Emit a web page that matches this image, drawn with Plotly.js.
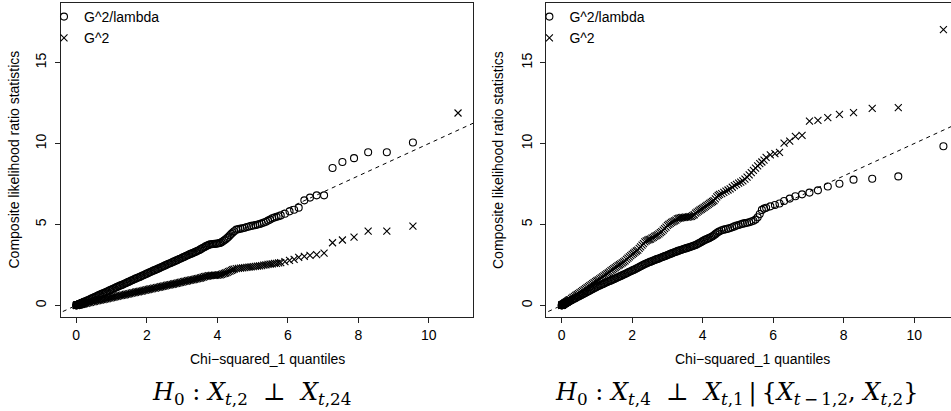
<!DOCTYPE html>
<html>
<head>
<meta charset="utf-8">
<script src="https://cdn.plot.ly/plotly-3.0.1.min.js"></script>
<style>html,body{margin:0;padding:0;background:#fff;}#chart{width:951px;height:411px;}</style>
</head>
<body>
<div id="chart"></div>
<script>
// Chi-squared_1 quantiles (x positions; shared by all series)
const qx = [
  0.000,0.004,0.008,0.012,0.018,0.025,0.033,0.042,0.052,0.063,
  0.075,0.088,0.100,0.115,0.130,0.145,0.160,0.180,0.200,0.220,
  0.24,0.28,0.32,0.36,0.40,0.44,0.48,0.52,0.56,0.60,
  0.64,0.68,0.72,0.76,0.80,0.84,0.88,0.92,0.96,1.00,
  1.04,1.08,1.12,1.16,1.20,1.24,1.28,1.32,1.36,1.40,
  1.44,1.48,1.52,1.56,1.60,1.64,1.68,1.72,1.76,1.80,
  1.84,1.88,1.92,1.96,2.00,2.04,2.08,2.12,2.16,2.20,
  2.24,2.28,2.32,2.36,2.40,2.44,2.48,2.52,2.56,2.60,
  2.64,2.68,2.72,2.76,2.80,2.84,2.88,2.92,2.96,3.00,
  3.04,3.08,3.12,3.16,3.20,3.24,3.28,3.32,3.36,3.40,
  3.44,3.48,3.52,3.56,3.60,3.64,3.68,3.72,3.76,3.80,
  3.84,3.88,3.92,3.96,4.00,4.04,4.08,4.12,4.16,4.20,
  4.24,4.28,4.32,4.36,4.40,4.44,4.48,4.54,4.60,4.66,
  4.72,4.78,4.84,4.90,4.96,5.02,5.08,5.14,5.20,5.26,
  5.32,5.38,5.44,5.50,5.56,5.62,5.68,5.74,5.80,5.92,
  6.05,6.18,6.31,6.47,6.63,6.82,7.03,7.27,7.55,7.88,
  8.28,8.81,9.55,10.83
];
// Left panel: H0 : X_{t,2} ⊥ X_{t,24}
const leftLambda = [
  0.000,0.004,0.008,0.012,0.018,0.025,0.032,0.041,0.051,0.062,
  0.074,0.086,0.098,0.113,0.127,0.142,0.157,0.176,0.196,0.216,
  0.24,0.27,0.31,0.35,0.39,0.43,0.47,0.51,0.55,0.59,
  0.63,0.67,0.71,0.74,0.78,0.82,0.86,0.90,0.94,0.98,
  1.02,1.06,1.10,1.14,1.18,1.22,1.25,1.29,1.33,1.37,
  1.41,1.45,1.49,1.53,1.57,1.61,1.65,1.69,1.72,1.76,
  1.80,1.84,1.88,1.92,1.96,2.00,2.04,2.08,2.12,2.16,
  2.19,2.23,2.27,2.31,2.35,2.39,2.43,2.47,2.51,2.55,
  2.59,2.62,2.66,2.70,2.74,2.78,2.82,2.86,2.90,2.94,
  2.98,3.02,3.06,3.10,3.14,3.18,3.21,3.25,3.29,3.33,
  3.37,3.41,3.46,3.51,3.56,3.61,3.66,3.70,3.74,3.77,
  3.78,3.79,3.80,3.81,3.82,3.84,3.86,3.90,3.96,4.02,
  4.09,4.16,4.24,4.33,4.42,4.50,4.58,4.68,4.71,4.74,
  4.77,4.80,4.84,4.87,4.91,4.94,4.96,4.99,5.03,5.07,
  5.12,5.17,5.24,5.30,5.38,5.43,5.47,5.51,5.56,5.66,
  5.81,5.91,6.04,6.49,6.66,6.80,6.80,8.49,8.86,9.10,
  9.46,9.46,10.07,null
];
const leftG2 = [
  0.000,0.002,0.004,0.006,0.009,0.012,0.016,0.020,0.025,0.030,
  0.036,0.042,0.048,0.055,0.062,0.069,0.076,0.085,0.095,0.105,
  0.12,0.13,0.15,0.17,0.19,0.21,0.23,0.25,0.27,0.29,
  0.31,0.33,0.35,0.36,0.38,0.40,0.42,0.44,0.46,0.48,
  0.50,0.52,0.54,0.56,0.58,0.60,0.61,0.63,0.65,0.67,
  0.69,0.71,0.73,0.75,0.77,0.79,0.81,0.83,0.84,0.86,
  0.88,0.90,0.92,0.94,0.96,0.98,1.00,1.02,1.04,1.06,
  1.07,1.09,1.11,1.13,1.15,1.17,1.19,1.21,1.23,1.25,
  1.27,1.28,1.30,1.32,1.34,1.36,1.38,1.40,1.42,1.44,
  1.46,1.48,1.50,1.52,1.54,1.56,1.57,1.59,1.61,1.63,
  1.65,1.67,1.69,1.72,1.74,1.77,1.79,1.81,1.83,1.84,
  1.85,1.85,1.86,1.86,1.87,1.88,1.89,1.91,1.94,1.97,
  2.00,2.04,2.08,2.12,2.16,2.20,2.24,2.27,2.29,2.30,
  2.32,2.33,2.35,2.36,2.38,2.40,2.41,2.42,2.44,2.46,
  2.48,2.50,2.53,2.55,2.57,2.59,2.60,2.62,2.64,2.70,
  2.78,2.84,2.97,3.03,3.09,3.13,3.23,3.87,4.04,4.22,
  4.59,4.59,4.90,11.89
];
// Right panel: H0 : X_{t,4} ⊥ X_{t,1} | {X_{t-1,2}, X_{t,2}}
const rightLambda = [
  0.000,0.005,0.009,0.014,0.021,0.029,0.038,0.048,0.060,0.072,
  0.086,0.101,0.115,0.132,0.150,0.167,0.184,0.207,0.230,0.253,
  0.28,0.32,0.37,0.41,0.46,0.51,0.55,0.60,0.64,0.69,
  0.74,0.78,0.83,0.87,0.92,0.97,1.01,1.06,1.10,1.15,
  1.19,1.23,1.27,1.31,1.35,1.39,1.43,1.47,1.51,1.54,
  1.58,1.62,1.66,1.70,1.74,1.78,1.82,1.86,1.90,1.94,
  1.98,2.03,2.07,2.11,2.15,2.19,2.23,2.28,2.32,2.37,
  2.42,2.46,2.51,2.55,2.59,2.63,2.66,2.70,2.73,2.77,
  2.80,2.84,2.87,2.90,2.94,2.97,3.00,3.04,3.07,3.11,
  3.14,3.18,3.21,3.25,3.28,3.31,3.35,3.38,3.41,3.44,
  3.47,3.50,3.52,3.55,3.58,3.61,3.64,3.67,3.70,3.73,
  3.77,3.82,3.87,3.92,3.97,4.02,4.06,4.10,4.14,4.18,
  4.22,4.27,4.33,4.40,4.47,4.53,4.58,4.64,4.68,4.71,
  4.74,4.78,4.83,4.88,4.93,4.97,5.01,5.05,5.08,5.11,
  5.14,5.18,5.23,5.30,5.45,5.65,5.90,5.98,6.03,6.12,
  6.20,6.30,6.45,6.60,6.74,6.86,6.97,7.11,7.35,7.52,
  7.77,7.83,7.97,9.83
];
const rightG2 = [
  0.000,0.006,0.012,0.018,0.027,0.038,0.050,0.064,0.079,0.096,
  0.114,0.134,0.152,0.175,0.198,0.220,0.243,0.274,0.304,0.334,
  0.36,0.43,0.49,0.55,0.61,0.67,0.73,0.79,0.85,0.91,
  0.97,1.03,1.09,1.16,1.22,1.28,1.34,1.40,1.46,1.52,
  1.58,1.64,1.70,1.76,1.82,1.88,1.94,2.00,2.07,2.14,
  2.21,2.27,2.33,2.39,2.45,2.51,2.57,2.63,2.69,2.75,
  2.84,2.92,3.00,3.07,3.15,3.22,3.29,3.36,3.42,3.52,
  3.62,3.72,3.82,3.92,3.99,4.03,4.07,4.10,4.15,4.20,
  4.26,4.31,4.36,4.42,4.49,4.56,4.65,4.74,4.84,4.95,
  5.01,5.07,5.13,5.18,5.22,5.27,5.34,5.37,5.40,5.42,
  5.43,5.44,5.45,5.46,5.47,5.48,5.50,5.54,5.60,5.70,
  5.76,5.82,5.88,5.94,6.00,6.06,6.12,6.18,6.24,6.30,
  6.36,6.42,6.48,6.58,6.70,6.80,6.86,6.90,6.98,7.06,
  7.13,7.20,7.30,7.40,7.48,7.55,7.62,7.70,7.80,7.93,
  8.06,8.20,8.34,8.48,8.62,8.76,8.86,8.98,9.15,9.30,
  9.38,9.45,10.03,10.15,10.44,10.50,11.39,11.43,11.60,11.80,
  11.91,12.18,12.22,17.04
];
const refLine = [-1, 12];          // y = x reference line
const xTicks = [0, 2, 4, 6, 8, 10];
const yTicks = [0, 5, 10, 15];
const seriesNames = ['G^2/lambda', 'G^2'];
const xTitle = 'Chi\u2212squared_1 quantiles';
const yTitle = 'Composite likelihood ratio statistics';
const SP = '\u00A0';
const leftCaption = '<i>H</i><sub>0</sub>' + SP + ':' + SP + '<i>X</i><sub><i>t</i>,2</sub>' + SP + SP + '\u22A5' + SP + SP + '<i>X</i><sub><i>t</i>,24</sub>';
const rightCaption = '<i>H</i><sub>0</sub>' + SP + ':' + SP + '<i>X</i><sub><i>t</i>,4</sub>' + SP + SP + '\u22A5' + SP + SP + '<i>X</i><sub><i>t</i>,1</sub>\u2009|\u2009{<i>X</i><sub><i>t</i>\u2009\u2212\u20091,2</sub>,' + SP + '<i>X</i><sub><i>t</i>,2</sub>}';

const SANS = 'Liberation Sans, Arial, Helvetica, sans-serif';
const SERIF = 'DejaVu Serif, Liberation Serif, serif';
const W = 951, H = 411;

function panel(xa, ya, circ, cross, leg) {
  return [
    {x: refLine, y: refLine, xaxis: xa, yaxis: ya, type: 'scatter', mode: 'lines',
     line: {color: '#000', width: 1, dash: '4px,4px'}, showlegend: false, hoverinfo: 'skip'},
    {x: qx, y: circ, xaxis: xa, yaxis: ya, type: 'scatter', mode: 'markers', name: seriesNames[0], legend: leg,
     marker: {symbol: 'circle-open', size: 7, color: '#000', line: {color: '#000', width: 1.1}}},
    {x: qx, y: cross, xaxis: xa, yaxis: ya, type: 'scatter', mode: 'markers', name: seriesNames[1], legend: leg,
     marker: {symbol: 'x-thin-open', size: 7, color: '#000', line: {color: '#000', width: 1.1}}}
  ];
}

const data = [].concat(
  panel('x', 'y', leftLambda, leftG2, 'legend'),
  panel('x2', 'y2', rightLambda, rightG2, 'legend2')
);

const ax = {
  showgrid: false, zeroline: false, showline: true, linecolor: '#222', linewidth: 1,
  ticks: 'outside', ticklen: 5, tickwidth: 1, tickcolor: '#222',
  tickfont: {family: SANS, size: 14, color: '#000'}, fixedrange: true
};
const yDom = [94 / H, 408.5 / H];
const L1 = 61, R1 = 473.3, L2 = 546.4;

const legendBase = {
  xref: 'paper', yref: 'paper', xanchor: 'left', yanchor: 'top',
  bgcolor: 'rgba(0,0,0,0)', borderwidth: 0, itemwidth: 30,
  font: {family: SANS, size: 14, color: '#000'}
};

const annText = (txt, x, y, extra) => Object.assign({
  text: txt, xref: 'paper', yref: 'paper', x: x / W, y: 1 - y / H,
  xanchor: 'center', yanchor: 'middle', showarrow: false,
  font: {family: SANS, size: 14, color: '#000'}
}, extra || {});

const layout = {
  width: W, height: H,
  margin: {l: 0, r: 0, t: 0, b: 0, pad: 0},
  paper_bgcolor: '#fff', plot_bgcolor: '#fff',
  showlegend: true,
  xaxis: Object.assign({}, ax, {domain: [L1 / W, R1 / W], range: [-0.433, 11.263], tickvals: xTicks, mirror: true, anchor: 'y'}),
  yaxis: Object.assign({}, ax, {domain: yDom, range: [-0.72, 18.72], tickvals: yTicks, tickangle: -90, ticklabelstandoff: 3, mirror: true, anchor: 'x'}),
  xaxis2: Object.assign({}, ax, {domain: [L2 / W, 1], range: [-0.433, 11.045], tickvals: xTicks, mirror: true, anchor: 'y2'}),
  yaxis2: Object.assign({}, ax, {domain: yDom, range: [-0.72, 18.72], tickvals: yTicks, tickangle: -90, ticklabelstandoff: 3, mirror: false, anchor: 'x2'}),
  legend: Object.assign({}, legendBase, {x: 44 / W, y: 1 - 1 / H}),
  legend2: Object.assign({}, legendBase, {x: (44 + L2 - L1) / W, y: 1 - 1 / H}),
  annotations: [
    annText(xTitle, 267.2, 359),
    annText(xTitle, 752.3, 359),
    annText(yTitle, 13.5, 160, {textangle: -90}),
    annText(yTitle, 498, 160, {textangle: -90}),
    annText(leftCaption, 251, 393, {font: {family: SERIF, size: 24, color: '#000'}}),
    annText(rightCaption, 736.5, 393, {font: {family: SERIF, size: 24, color: '#000'}})
  ]
};

Plotly.newPlot('chart', data, layout, {staticPlot: true, displayModeBar: false});
</script>
</body>
</html>
